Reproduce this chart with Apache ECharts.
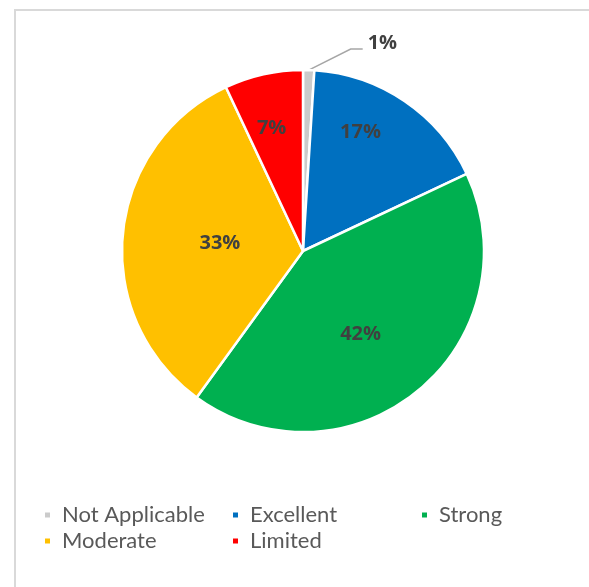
<!DOCTYPE html>
<html>
<head>
<meta charset="utf-8">
<style>
  html, body { margin: 0; padding: 0; background: #ffffff; }
  #chart { width: 589px; height: 587px; }
</style>
<script src="https://cdn.jsdelivr.net/npm/echarts@6/dist/echarts.min.js"></script>
</head>
<body>
<div id="chart"></div>
<script>
// Rating categories, in clockwise order from 12 o'clock
const categories = ['Not Applicable', 'Excellent', 'Strong', 'Moderate', 'Limited'];
// Share of responses per rating (%)
const shares = [1, 17, 42, 33, 7];
// Slice colours
const colors = ['#CBCBCB', '#0070C0', '#00B050', '#FFC000', '#FF0000'];
// Label nudges (px) away from the default inside position
const labelNudge = [[0, 0], [5, -41], [-2, 11], [10, 1], [-11, -31]];

const CENTER = [303, 251];
const RADIUS = 181;
// Leader line shape for the small outside label: diagonal leg, then flat leg
const LEADER_DIAG = [42, -21];
const LEADER_FLAT = 12;
const LEADER_TEXT_GAP = 5;

const total = shares.reduce((a, b) => a + b, 0);
// Mid-angle of each slice, measured clockwise from 12 o'clock (radians)
const midAngles = (() => {
  let acc = 0;
  return shares.map(v => {
    const m = (acc + v / 2) / total * Math.PI * 2;
    acc += v;
    return m;
  });
})();

const chart = echarts.init(document.getElementById('chart'), null, { renderer: 'canvas' });

const pieData = categories.map((name, i) => ({
  name: name,
  value: shares[i],
  itemStyle: { color: colors[i] },
  label: i === 0 ? { position: 'outside' } : { position: 'inside' },
  labelLine: i === 0 ? {
    show: true,
    length: 10,
    length2: 10,
    lineStyle: { color: '#A6A6A6', width: 1.5 }
  } : { show: false }
}));

const legendBase = {
  orient: 'vertical',
  itemWidth: 7,
  itemHeight: 7,
  itemGap: 4,
  icon: 'rect',
  textStyle: { color: '#595959', fontSize: 22, fontFamily: 'Lato', padding: [0, 0, 0, 6] }
};

chart.setOption({
  animation: false,
  backgroundColor: '#ffffff',
  graphic: [{
    type: 'rect',
    shape: { x: 15, y: 10, width: 800, height: 800 },
    style: { fill: 'none', stroke: '#D9D9D9', lineWidth: 2 },
    silent: true
  }],
  legend: [
    Object.assign({}, legendBase, { left: 38, top: 499, data: ['Not Applicable', 'Moderate'] }),
    Object.assign({}, legendBase, { left: 226, top: 499, data: ['Excellent', 'Limited'] }),
    Object.assign({}, legendBase, { left: 415, top: 499, data: ['Strong'] })
  ],
  series: [{
    type: 'pie',
    center: CENTER,
    radius: [0, RADIUS],
    startAngle: 90,
    clockwise: true,
    avoidLabelOverlap: false,
    itemStyle: { borderColor: '#ffffff', borderWidth: 2.5 },
    label: {
      show: true,
      formatter: '{c}%',
      color: '#404040',
      fontSize: 20,
      fontWeight: 'bold',
      fontFamily: 'Open Sans'
    },
    labelLayout: function (params) {
      const i = params.dataIndex;
      if (i === 0) {
        // Outside label: run the leader from the slice's rim to the text
        const a = midAngles[i];
        const edge = [CENTER[0] + RADIUS * Math.sin(a), CENTER[1] - RADIUS * Math.cos(a)];
        const elbow = [edge[0] + LEADER_DIAG[0], edge[1] + LEADER_DIAG[1]];
        const end = [elbow[0] + LEADER_FLAT, elbow[1]];
        return {
          x: end[0] + LEADER_TEXT_GAP,
          y: end[1] - 6,
          align: 'left',
          verticalAlign: 'middle',
          labelLinePoints: [edge, elbow, end]
        };
      }
      const n = labelNudge[i];
      return { dx: n[0], dy: n[1] };
    },
    data: pieData
  }]
});
</script>
</body>
</html>
